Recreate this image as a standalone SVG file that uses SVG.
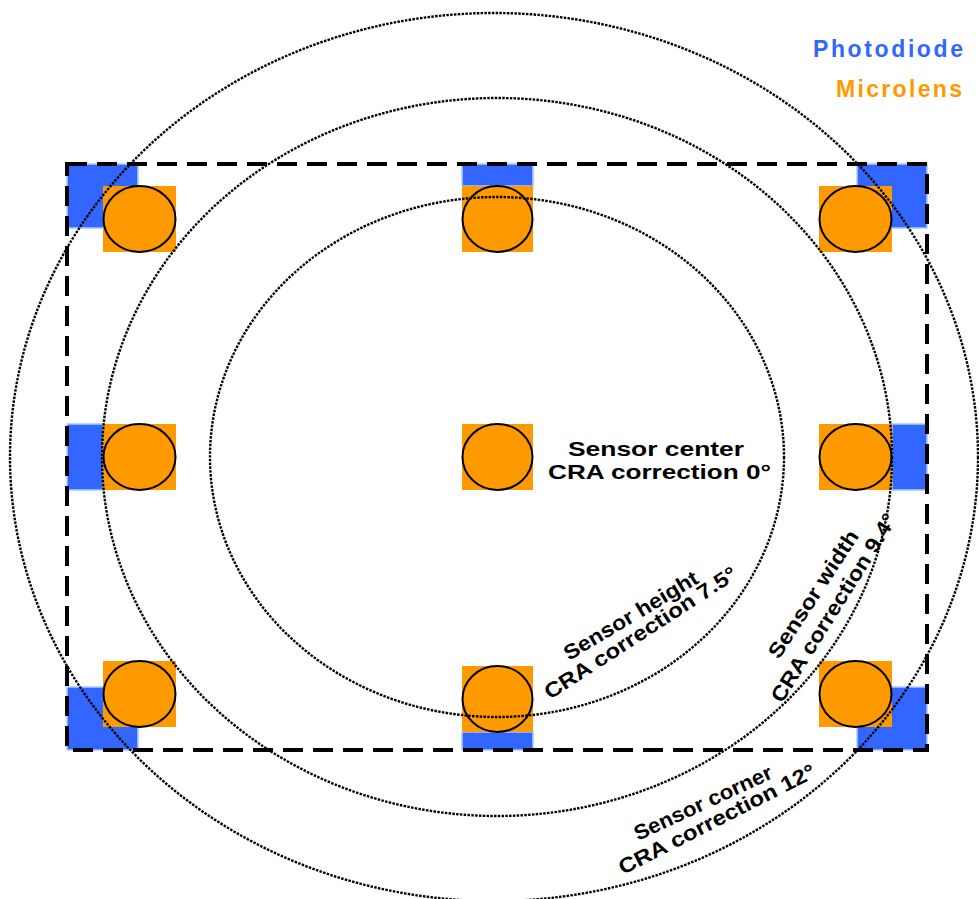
<svg xmlns="http://www.w3.org/2000/svg" width="979" height="899" viewBox="0 0 979 899">
<style>
.pd{fill:#3366FF;stroke:#A6CCFF;stroke-width:1.5}
.ml{fill:#FF9900}
.lens{fill:#FF9900;stroke:#000;stroke-width:2}
.ring{fill:none;stroke:#000;stroke-width:2.4;stroke-dasharray:2.5 1.3}
.frame{fill:none;stroke:#000;stroke-width:4;stroke-dasharray:20 10}
.lbl{font-family:"Liberation Sans",Arial,sans-serif;font-weight:bold;font-size:21px;fill:#000}
.ctr{font-size:20px}
.leg{font-family:"Liberation Sans",Arial,sans-serif;font-weight:bold;font-size:23px}
</style>
<rect width="979" height="899" fill="#fff"/>
<g id="node-tl">
<rect class="pd" x="67" y="164" width="71" height="64"/>
<rect class="ml" x="103" y="186" width="73" height="66"/>
<ellipse class="lens" cx="139.5" cy="219" rx="36" ry="33"/>
</g>
<g id="node-tm">
<rect class="pd" x="462" y="164" width="71" height="22"/>
<rect class="ml" x="462" y="186" width="71" height="66"/>
<ellipse class="lens" cx="497.5" cy="219" rx="35" ry="33"/>
</g>
<g id="node-tr">
<rect class="pd" x="857" y="164" width="70" height="64"/>
<rect class="ml" x="819" y="186" width="73" height="66"/>
<ellipse class="lens" cx="855.5" cy="219" rx="36" ry="33"/>
</g>
<g id="node-ml">
<rect class="pd" x="67" y="424" width="36" height="66"/>
<rect class="ml" x="103" y="424" width="73" height="66"/>
<ellipse class="lens" cx="139.5" cy="457" rx="36" ry="33"/>
</g>
<g id="node-mm">
<rect class="ml" x="462" y="424" width="71" height="66"/>
<ellipse class="lens" cx="497.5" cy="457" rx="35" ry="33"/>
</g>
<g id="node-mr">
<rect class="pd" x="892" y="424" width="35" height="66"/>
<rect class="ml" x="819" y="424" width="73" height="66"/>
<ellipse class="lens" cx="855.5" cy="457" rx="36" ry="33"/>
</g>
<g id="node-bl">
<rect class="pd" x="67" y="687" width="71" height="63"/>
<rect class="ml" x="103" y="661" width="73" height="66"/>
<ellipse class="lens" cx="139.5" cy="694" rx="36" ry="33"/>
</g>
<g id="node-bm">
<rect class="pd" x="462" y="732" width="71" height="18"/>
<rect class="ml" x="462" y="666" width="71" height="66"/>
<ellipse class="lens" cx="497.5" cy="699" rx="35" ry="33"/>
</g>
<g id="node-br">
<rect class="pd" x="857" y="687" width="70" height="63"/>
<rect class="ml" x="819" y="661" width="73" height="66"/>
<ellipse class="lens" cx="855.5" cy="694" rx="36" ry="33"/>
</g>
<g id="connectors">
<rect class="frame" x="67" y="164" width="860" height="586"/>
<ellipse class="ring" cx="497" cy="457" rx="287" ry="260"/>
<ellipse class="ring" cx="497" cy="457" rx="395" ry="359"/>
<ellipse class="ring" cx="494" cy="457" rx="484" ry="444"/>
</g>
<g id="labels">
<text class="leg" x="813" y="57" fill="#3366FF" textLength="150" lengthAdjust="spacing">Photodiode</text>
<text class="leg" x="836" y="97" fill="#FF9900" textLength="126" lengthAdjust="spacing">Microlens</text>
<text class="lbl ctr" x="568" y="456" textLength="176" lengthAdjust="spacingAndGlyphs">Sensor center</text>
<text class="lbl ctr" x="548" y="479" textLength="223" lengthAdjust="spacingAndGlyphs">CRA correction 0°</text>
<text class="lbl" transform="translate(569,661) rotate(-31)" textLength="153" lengthAdjust="spacingAndGlyphs">Sensor height</text>
<text class="lbl" transform="translate(550,700) rotate(-33)" textLength="225" lengthAdjust="spacingAndGlyphs">CRA correction 7.5°</text>
<text class="lbl" transform="translate(779,660) rotate(-57)" textLength="148" lengthAdjust="spacingAndGlyphs">Sensor width</text>
<text class="lbl" transform="translate(782,704) rotate(-58)" textLength="218" lengthAdjust="spacingAndGlyphs">CRA correction 9.4°</text>
<text class="lbl" transform="translate(638,841) rotate(-25)" textLength="150" lengthAdjust="spacingAndGlyphs">Sensor corner</text>
<text class="lbl" transform="translate(623,875) rotate(-27)" textLength="218" lengthAdjust="spacingAndGlyphs">CRA correction 12°</text>
</g>
</svg>
